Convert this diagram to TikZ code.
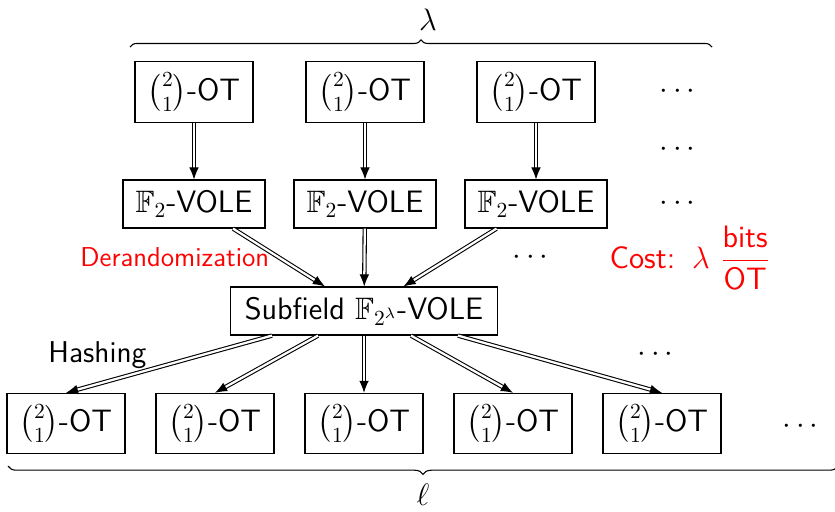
\documentclass[tikz,border=0pt]{standalone}
\usepackage{amsmath,amssymb}
\usetikzlibrary{arrows.meta,decorations.pathreplacing}
\begin{document}
\begin{tikzpicture}[x=0.465pt,y=-0.465pt,
  every node/.style={font=\sffamily\Large},
  box/.style={draw, line width=0.55pt, inner sep=0.3333em},
  otbox/.style={box, minimum width=54.9pt, minimum height=28pt},
  volebox/.style={box, minimum width=66pt, minimum height=22.3pt},
  subbox/.style={box, minimum width=124pt, minimum height=22.3pt},
  dbl/.style={double, double distance=1.05pt, line width=0.5pt,
    -{Latex[length=5.6pt,width=4.5pt]}},
  bracedeco/.style={decorate, line width=0.5pt,
    decoration={brace, amplitude=#1}},
  dotsnode/.style={inner sep=0pt, anchor=base},
  note/.style={inner sep=0pt, anchor=base west}]
\useasboundingbox (0,0) rectangle (835,511);

% first row: base OTs
\node[otbox] (t1) at (194,92) {$\binom{2}{1}$-OT};
\node[otbox] (t2) at (365,92) {$\binom{2}{1}$-OT};
\node[otbox] (t3) at (536,92) {$\binom{2}{1}$-OT};

% second row: F2-VOLEs
\node[volebox] (v1) at (194,204) {$\mathbb{F}_2$-VOLE};
\node[volebox] (v2) at (365,204) {$\mathbb{F}_2$-VOLE};
\node[volebox] (v3) at (536,204) {$\mathbb{F}_2$-VOLE};

% combined subfield VOLE
\node[subbox] (sub) at (364,311) {Subfield $\mathbb{F}_{2^\lambda}$-VOLE};

% output OTs
\node[otbox] (b1) at (66,423.5) {$\binom{2}{1}$-OT};
\node[otbox] (b2) at (215,423.5) {$\binom{2}{1}$-OT};
\node[otbox] (b3) at (364,423.5) {$\binom{2}{1}$-OT};
\node[otbox] (b4) at (513,423.5) {$\binom{2}{1}$-OT};
\node[otbox] (b5) at (662,423.5) {$\binom{2}{1}$-OT};

% ellipses
\node[dotsnode] (d1) at (680,98) {$\cdots$};
\node[dotsnode] (d2) at (680,156) {$\cdots$};
\node[dotsnode] (d3) at (680,210) {$\cdots$};
\node[dotsnode] (d4) at (533,264) {$\cdots$};
\node[dotsnode] (d5) at (658,361) {$\cdots$};
\node[dotsnode] (d6) at (803,433) {$\cdots$};

% labels
\node[note, text=red, font=\sffamily\fontsize{12.7}{15}\selectfont]
  (derand) at (80,266) {Derandomization};
\node[note, font=\sffamily\fontsize{14}{17}\selectfont]
  (hash) at (48,362) {Hashing};
\node[text=red, inner sep=0pt] (cost) at (690,258)
  {Cost:\hspace{0.55em}$\lambda\ \dfrac{\text{bits}}{\text{OT}}$};

% braces
\coordinate (lamL) at (130,47);
\coordinate (lamR) at (712,47);
\draw[bracedeco=3.3pt] (lamL) -- (lamR);
\node[inner sep=0pt] (lam) at (428,20) {$\lambda$};
\coordinate (ellL) at (8,466);
\coordinate (ellR) at (838,466);
\draw[bracedeco=3.9pt] (ellR) -- (ellL);
\node[inner sep=0pt] (ell) at (423,495) {$\ell$};

% OT -> F2-VOLE
\draw[dbl] (t1) -- (v1);
\draw[dbl] (t2) -- (v2);
\draw[dbl] (t3) -- (v3);

% F2-VOLE -> subfield VOLE
\draw[dbl] (v1) -- (sub);
\draw[dbl] (v2) -- (sub);
\draw[dbl] (v3) -- (sub);

% subfield VOLE -> OTs
\draw[dbl] ([xshift=-92*0.465pt]sub.south) -- (b1.north);
\draw[dbl] ([xshift=-46*0.465pt]sub.south) -- (b2.north);
\draw[dbl] (sub.south) -- (b3.north);
\draw[dbl] ([xshift=47*0.465pt]sub.south) -- (b4.north);
\draw[dbl] ([xshift=94*0.465pt]sub.south) -- (b5.north);
\end{tikzpicture}
\end{document}
